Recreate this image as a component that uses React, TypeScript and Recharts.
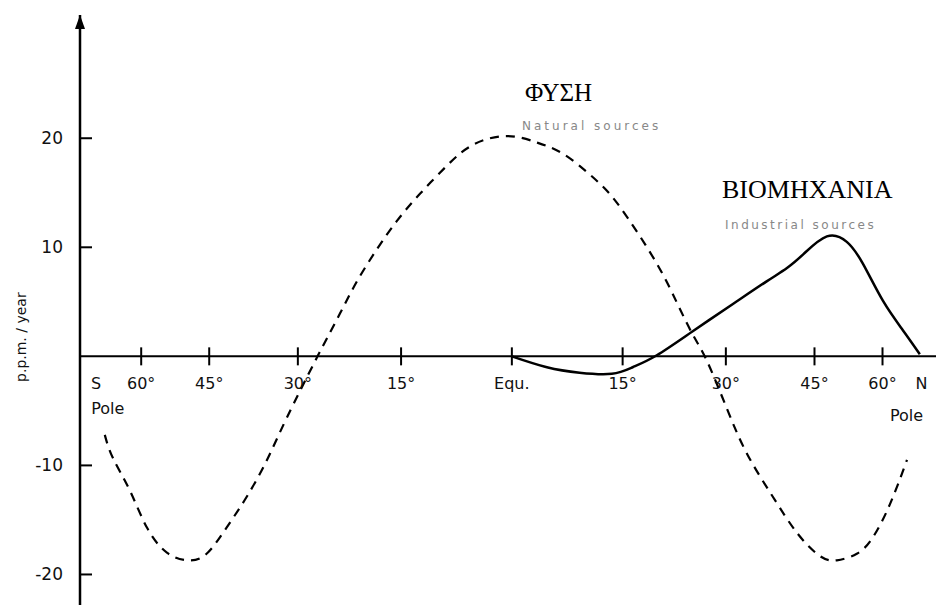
import { LineChart, Line, XAxis, YAxis, ReferenceLine, ReferenceDot } from 'recharts'

// latitude in degrees (south negative), flux in p.p.m./year
const naturalLat = [-72, -68.8, -63.2, -58.5, -53.7, -49.2, -45.5, -41.8, -38.3, -34.9, -31.7, -27, -23.7, -21.2, -18.4, -15.6, -12.4, -8.7, -5.2, -0.7, 3.4, 6.8, 10.1, 12.8, 15.6, 19.8, 22.7, 25.0, 27.1, 30.1, 33.3, 37.6, 41.8, 46.0, 49.4, 53.7, 57.5, 62.0, 67.4]
const naturalVal = [-7.2, -9.3, -12.3, -15.7, -18.0, -18.7, -18.1, -15.7, -12.9, -9.5, -5.6, 0, 3.9, 6.9, 9.8, 12.4, 14.9, 17.5, 19.4, 20.2, 19.6, 18.6, 16.9, 15.2, 12.8, 8.5, 4.9, 2.0, -0.4, -4.7, -8.9, -12.9, -16.2, -18.3, -18.7, -18.1, -16.6, -13.6, -9.5]

const industrialLat = [0, 4.7, 9.1, 13.5, 16.4, 19.8, 25.0, 31.1, 36.6, 40.0, 43.0, 47.4, 51.5, 55.1, 60.1, 66.0, 72.4]
const industrialVal = [0, -1.0, -1.5, -1.6, -1.0, 0.1, 2.3, 4.8, 6.9, 8.1, 9.4, 11.0, 10.5, 8.5, 5.1, 2.4, 0.2]

const latTicks = [-60, -45, -30, -15, 0, 15, 30, 45, 60]
const latTickLabels = ['60°', '45°', '30°', '15°', 'Equ.', '15°', '30°', '45°', '60°']
const yTicks = [20, 10, -10, -20]

// the x axis is area-weighted: sine of latitude
const toS = (lat: number) => Math.sin((lat * Math.PI) / 180)

const naturalData = naturalLat.map((lat, i) => ({ s: toS(lat), v: naturalVal[i] }))
const industrialData = industrialLat.map((lat, i) => ({ s: toS(lat), v: industrialVal[i] }))

const FONT = '"DejaVu Sans", sans-serif'

const YTick = (props: any) => {
  const { x, y, payload } = props
  return (
    <g>
      <text x={x} y={y} dy={6} textAnchor="end" fontFamily={FONT} fontSize={17} fill="#111">
        {payload.value}
      </text>
      <line x1={x + 17} x2={x + 29} y1={y} y2={y} stroke="#000" strokeWidth={2} />
    </g>
  )
}

const YDecor = (props: any) => {
  const { x, y, width, height } = props.viewBox
  const ax = x + width
  const ty = y + height * 0.546
  return (
    <g>
      <path d={`M${ax},${y} L${ax - 5},${y + 14} L${ax + 5},${y + 14} Z`} fill="#000" />
      <text
        x={x + 26}
        y={ty}
        textAnchor="middle"
        fontFamily={FONT}
        fontSize={14}
        fill="#111"
        transform={`rotate(-90 ${x + 26} ${ty})`}
      >
        p.p.m. / year
      </text>
    </g>
  )
}

const makeXTick = (i: number) => (p: any) => {
  const { cx, cy } = p
  const last = latTicks.length - 1
  return (
    <g>
      <line x1={cx} x2={cx} y1={cy - 9} y2={cy + 9} stroke="#000" strokeWidth={2} />
      <text x={cx} y={cy + 33} textAnchor="middle" fontFamily={FONT} fontSize={16} fill="#111">
        {latTickLabels[i]}
      </text>
      {i === 0 && (
        <>
          <text x={cx - 45} y={cy + 33} textAnchor="middle" fontFamily={FONT} fontSize={16} fill="#111">S</text>
          <text x={cx - 50} y={cy + 58} textAnchor="start" fontFamily={FONT} fontSize={16} fill="#111">Pole</text>
        </>
      )}
      {i === last && (
        <>
          <text x={cx + 39} y={cy + 33} textAnchor="middle" fontFamily={FONT} fontSize={16} fill="#111">N</text>
          <text x={cx + 24} y={cy + 65} textAnchor="middle" fontFamily={FONT} fontSize={16} fill="#111">Pole</text>
        </>
      )}
    </g>
  )
}

export default function App() {
  return (
    <div style={{ position: 'fixed', left: 0, top: 0, width: 936, height: 610, background: '#fff' }}>
      <LineChart width={936} height={610} margin={{ top: 15, right: 0, bottom: 5, left: 0 }}>
        <XAxis dataKey="s" type="number" domain={[-1.009, 0.991]} allowDataOverflow hide />
        <YAxis
          type="number"
          domain={[-22.8, 31.3]}
          ticks={yTicks}
          interval={0}
          width={80}
          tickSize={0}
          tickMargin={17}
          tickLine={false}
          tick={<YTick />}
          axisLine={{ stroke: '#000', strokeWidth: 2.5 }}
          label={{ content: <YDecor /> }}
          allowDataOverflow
        />
        <ReferenceLine y={0} stroke="#000" strokeWidth={2} />
        {latTicks.map((lat, i) => (
          <ReferenceDot key={i} x={toS(lat)} y={0} r={0} shape={makeXTick(i)} />
        ))}
        <Line
          data={naturalData}
          dataKey="v"
          type="natural"
          stroke="#000"
          strokeWidth={2.2}
          strokeDasharray="9 7"
          dot={false}
          isAnimationActive={false}
        />
        <Line
          data={industrialData}
          dataKey="v"
          type="natural"
          stroke="#000"
          strokeWidth={2.5}
          dot={false}
          isAnimationActive={false}
        />
      </LineChart>
      <div style={{ position: 'absolute', left: 525, top: 78, fontFamily: '"Liberation Serif", serif', fontSize: 25, color: '#000', lineHeight: '30px' }}>
        ΦΥΣΗ
      </div>
      <div style={{ position: 'absolute', left: 522, top: 118, fontFamily: FONT, fontSize: 12, color: '#888', letterSpacing: 3, lineHeight: '16px' }}>
        Natural sources
      </div>
      <div style={{ position: 'absolute', left: 722, top: 175, fontFamily: '"Liberation Serif", serif', fontSize: 26, color: '#000', lineHeight: '30px' }}>
        BIOMHXANIA
      </div>
      <div style={{ position: 'absolute', left: 725, top: 217, fontFamily: FONT, fontSize: 12, color: '#888', letterSpacing: 2.5, lineHeight: '16px' }}>
        Industrial sources
      </div>
    </div>
  )
}
